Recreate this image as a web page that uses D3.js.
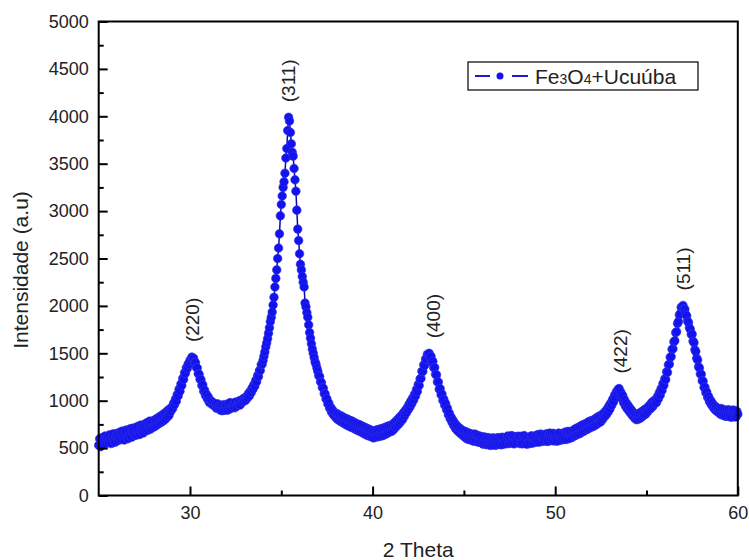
<!DOCTYPE html>
<html>
<head>
<meta charset="utf-8">
<script src="https://cdn.jsdelivr.net/npm/d3@7"></script>
<style>
  html, body { margin: 0; padding: 0; background: #fff; }
  svg { display: block; font-family: "Liberation Sans", Arial, sans-serif; }
</style>
</head>
<body>
<svg id="chart" width="749" height="560"></svg>
<script>
// ---- Data ----
const thetaStart = 25, thetaStep = 0.05;
// Intensity readings, one row per degree (20 points at 0.05° steps)
const intensity = [
  530, 598, 515, 585, 612, 540, 596, 628, 548, 605, 622, 556, 640, 590, 548, 628, 650, 580, 562, 640,
  655, 578, 640, 668, 590, 660, 680, 606, 585, 672, 690, 612, 598, 695, 628, 705, 615, 680, 712, 632,
  645, 718, 638, 730, 665, 645, 742, 672, 735, 660, 752, 680, 748, 770, 688, 760, 785, 702, 775, 718,
  790, 725, 800, 738, 815, 752, 825, 765, 840, 775, 850, 790, 868, 805, 880, 825, 900, 845, 915, 888,
  930, 918, 972, 958, 1015, 995, 1065, 1050, 1120, 1100, 1175, 1160, 1235, 1225, 1295, 1290, 1348, 1340, 1390, 1382,
  1425, 1412, 1460, 1445, 1448, 1405, 1402, 1350, 1345, 1285, 1278, 1225, 1222, 1160, 1168, 1100, 1112, 1055, 1068, 1020,
  1040, 985, 1005, 970, 990, 955, 975, 945, 962, 920, 968, 928, 948, 902, 955, 895, 948, 898, 960, 905,
  955, 900, 968, 910, 980, 922, 955, 940, 975, 925, 985, 940, 972, 960, 1000, 955, 1002, 985, 1020, 995,
  1030, 1005, 1045, 1030, 1075, 1050, 1100, 1085, 1135, 1120, 1170, 1155, 1215, 1200, 1265, 1255, 1318, 1320, 1380, 1385,
  1425, 1470, 1515, 1568, 1610, 1655, 1712, 1770, 1835, 1880, 1935, 2010, 2090, 2200, 2290, 2380, 2500, 2610, 2760, 2950,
  3070, 3160, 3250, 3310, 3400, 3560, 3660, 3850, 3990, 3950, 3830, 3710, 3620, 3580, 3450, 3330, 3210, 3010, 2810, 2690,
  2550, 2440, 2380, 2310, 2250, 2200, 2030, 1990, 1930, 1880, 1800, 1720, 1660, 1600, 1545, 1500, 1455, 1410, 1385, 1345,
  1310, 1265, 1255, 1200, 1190, 1140, 1132, 1075, 1072, 1018, 1020, 965, 975, 920, 932, 880, 905, 852, 880, 830,
  865, 808, 858, 795, 842, 780, 838, 772, 825, 758, 815, 748, 808, 735, 798, 728, 790, 718, 782, 712,
  770, 700, 760, 690, 752, 680, 745, 672, 735, 662, 725, 650, 718, 640, 708, 632, 698, 625, 690, 618,
  675, 608, 680, 615, 690, 620, 695, 622, 700, 628, 705, 632, 712, 640, 720, 650, 728, 660, 735, 672,
  738, 678, 752, 695, 770, 718, 788, 738, 808, 758, 830, 780, 850, 805, 876, 840, 900, 872, 928, 905,
  965, 935, 1000, 970, 1032, 1008, 1070, 1050, 1118, 1098, 1170, 1160, 1230, 1235, 1310, 1308, 1380, 1372, 1440, 1435,
  1490, 1480, 1500, 1450, 1468, 1405, 1415, 1348, 1350, 1278, 1272, 1198, 1198, 1122, 1128, 1062, 1070, 1002, 1015, 952,
  970, 905, 920, 852, 870, 810, 828, 770, 795, 735, 765, 705, 740, 682, 720, 665, 705, 648, 690, 632,
  680, 615, 672, 600, 665, 592, 655, 588, 650, 580, 642, 572, 648, 575, 638, 565, 630, 560, 625, 562,
  612, 542, 618, 548, 605, 535, 612, 540, 605, 528, 600, 535, 608, 532, 600, 530, 606, 538, 610, 540,
  605, 535, 615, 542, 608, 568, 545, 615, 628, 548, 618, 552, 632, 558, 625, 545, 620, 582, 556, 625,
  618, 548, 625, 555, 545, 620, 632, 550, 615, 540, 612, 572, 548, 618, 630, 552, 622, 585, 560, 632,
  572, 642, 562, 635, 648, 570, 640, 602, 572, 645, 578, 652, 570, 642, 658, 578, 648, 582, 655, 575,
  640, 598, 574, 646, 658, 580, 648, 610, 588, 658, 595, 668, 590, 662, 676, 600, 672, 632, 610, 682,
  625, 695, 632, 708, 645, 716, 650, 725, 660, 740, 675, 748, 680, 756, 695, 768, 702, 780, 715, 788,
  722, 792, 730, 805, 742, 818, 755, 830, 768, 842, 778, 850, 805, 868, 830, 888, 852, 915, 880, 948,
  912, 978, 952, 1015, 990, 1058, 1035, 1095, 1070, 1120, 1128, 1065, 1088, 1022, 1055, 978, 1010, 942, 975, 912,
  948, 888, 920, 862, 895, 838, 872, 815, 858, 800, 860, 805, 865, 815, 880, 828, 892, 848, 908, 858,
  915, 880, 938, 905, 960, 920, 982, 940, 1000, 968, 1008, 982, 1045, 1020, 1085, 1058, 1128, 1108, 1180, 1162,
  1232, 1222, 1305, 1298, 1380, 1385, 1458, 1465, 1542, 1548, 1622, 1632, 1718, 1728, 1815, 1835, 1905, 1918, 1985, 1978,
  2005, 1968, 1965, 1910, 1895, 1840, 1825, 1770, 1752, 1700, 1702, 1628, 1612, 1538, 1518, 1448, 1430, 1358, 1345, 1282,
  1278, 1210, 1205, 1140, 1142, 1085, 1092, 1035, 1045, 990, 1008, 958, 978, 930, 950, 905, 935, 888, 920, 875,
  912, 858, 918, 850, 905, 842, 902, 835, 898, 840, 905, 832, 892, 825, 888, 902, 832, 895, 828, 888,
  858
];
const theta = intensity.map((_, i) => +(thetaStart + i * thetaStep).toFixed(2));

const seriesName = ["Fe", "3", "O", "4", "+Ucuúba"];
const peakLabels = ["(220)", "(311)", "(400)", "(422)", "(511)"];
const peakTheta  = [30.15, 35.38, 43.3, 53.55, 57.0];
const peakValue  = [1460, 3990, 1500, 1128, 2005];

const xTicks = [30, 40, 50, 60];
const xMinorTicks = [35, 45, 55];
const yTicks = [0, 500, 1000, 1500, 2000, 2500, 3000, 3500, 4000, 4500, 5000];
const yMinorTicks = [250, 750, 1250, 1750, 2250, 2750, 3250, 3750, 4250, 4750];

// ---- Layout ----
const svg = d3.select("#chart");
const L = 98.7, R = 737.8, T = 21.5, B = 495.5;
const x = d3.scaleLinear().domain([25, 60]).range([L, R]);
const y = d3.scaleLinear().domain([0, 5000]).range([B, T]);

const blue = "#1212ee";
const lineBlue = "#0a0aa8";

// Series line + markers
const pts = theta.map((t, i) => [t, intensity[i]]);
const gPlot = svg.append("g");
gPlot.append("path")
  .datum(pts)
  .attr("fill", "none")
  .attr("stroke", lineBlue)
  .attr("stroke-width", 1.5)
  .attr("d", d3.line().x(d => x(d[0])).y(d => y(d[1])));
gPlot.selectAll("circle.pt")
  .data(pts)
  .join("circle")
  .attr("class", "pt")
  .attr("cx", d => x(d[0]))
  .attr("cy", d => y(d[1]))
  .attr("r", 4.3)
  .attr("fill", blue)
  .attr("stroke", "#3434e4")
  .attr("stroke-width", 0.6);

// Axes
const tickFont = 18;
const gx = svg.append("g").attr("transform", `translate(0,${B})`)
  .call(d3.axisBottom(x).tickValues(xTicks).tickSize(-9).tickPadding(11).tickFormat(d3.format("d")));
const gxm = svg.append("g").attr("transform", `translate(0,${B})`)
  .call(d3.axisBottom(x).tickValues(xMinorTicks).tickSize(-5).tickFormat(""));
const gy = svg.append("g").attr("transform", `translate(${L},0)`)
  .call(d3.axisLeft(y).tickValues(yTicks).tickSize(-9).tickPadding(10).tickFormat(d3.format("d")));
const gym = svg.append("g").attr("transform", `translate(${L},0)`)
  .call(d3.axisLeft(y).tickValues(yMinorTicks).tickSize(-5).tickFormat(""));

[gx, gxm, gy, gym].forEach(g => {
  g.select(".domain").remove();
  g.selectAll(".tick line").attr("stroke", "#000").attr("stroke-width", 2);
  g.selectAll(".tick text").attr("fill", "#222").attr("font-size", tickFont)
    .attr("font-family", "Liberation Sans, Arial, sans-serif");
});

// Frame
svg.append("rect")
  .attr("x", L).attr("y", T).attr("width", R - L).attr("height", B - T)
  .attr("fill", "none").attr("stroke", "#000").attr("stroke-width", 2);

// Axis titles
svg.append("text")
  .attr("x", (L + R) / 2).attr("y", 557)
  .attr("text-anchor", "middle").attr("font-size", 21).attr("fill", "#222")
  .text("2 Theta");
svg.append("text")
  .attr("transform", `translate(28,270) rotate(-90)`)
  .attr("text-anchor", "middle").attr("font-size", 21).attr("fill", "#222")
  .text("Intensidade (a.u)");

// Peak labels
peakLabels.forEach((lab, i) => {
  svg.append("text")
    .attr("transform", `translate(${x(peakTheta[i])},${y(peakValue[i]) - 15}) rotate(-90)`)
    .attr("dy", "0.35em")
    .attr("text-anchor", "start").attr("font-size", 19).attr("fill", "#222")
    .text(lab);
});

// Legend
const lg = svg.append("g");
lg.append("rect").attr("x", 468).attr("y", 62).attr("width", 230).attr("height", 28)
  .attr("fill", "#fff").attr("stroke", "#000").attr("stroke-width", 1.2);
lg.append("line").attr("x1", 475).attr("x2", 490).attr("y1", 76).attr("y2", 76)
  .attr("stroke", "#1a1ad0").attr("stroke-width", 2);
lg.append("line").attr("x1", 512).attr("x2", 528).attr("y1", 76).attr("y2", 76)
  .attr("stroke", "#1a1ad0").attr("stroke-width", 2);
lg.append("circle").attr("cx", 500).attr("cy", 76).attr("r", 3.5).attr("fill", blue);
const lt = lg.append("text").attr("x", 535).attr("y", 84).attr("font-size", 21).attr("fill", "#222");
seriesName.forEach((s, i) => {
  lt.append("tspan").attr("font-size", (i === 1 || i === 3) ? 14 : 21).text(s);
});
</script>
</body>
</html>
